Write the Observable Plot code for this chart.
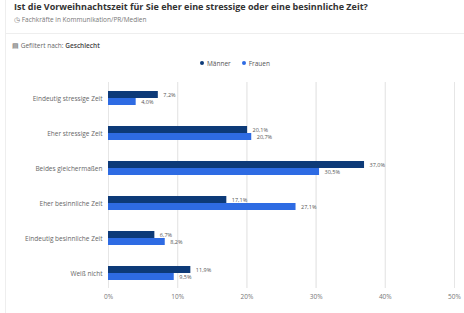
<!DOCTYPE html>
<html><head><meta charset="utf-8">
<script src="https://cdn.jsdelivr.net/npm/d3@7"></script>
<script src="https://cdn.jsdelivr.net/npm/@observablehq/plot@0.6"></script>
<style>
body{margin:0;background:#fff;font-family:"Open Sans",Roboto,sans-serif;width:464px;height:313px;overflow:hidden;position:relative;}
.card{position:absolute;left:5px;top:0;width:459px;height:313px;border-left:1px solid #eee;}
.title{position:absolute;left:14px;top:1px;font-size:9px;line-height:11px;font-weight:700;color:#333;white-space:nowrap;}
.sub{position:absolute;left:14px;top:15px;font-size:6.5px;color:#777;white-space:nowrap;}
.sep{position:absolute;left:5px;right:0;top:33px;border-top:1px solid #eee;}
.filt{position:absolute;left:12px;top:41px;font-size:6.5px;color:#666;white-space:nowrap;}
.filt b{color:#444;font-weight:600}
.legend{position:absolute;top:59px;left:200px;font-size:6.5px;color:#555;white-space:nowrap;}
.legend span{display:inline-block;margin-right:11px}
.legend i{display:inline-block;width:4px;height:4px;border-radius:50%;margin-right:3px;vertical-align:1px}
#chart{position:absolute;left:0;top:75px;}
</style></head>
<body>
<div class="card"></div>
<div class="title">Ist die Vorweihnachtszeit für Sie eher eine stressige oder eine besinnliche Zeit?</div>
<div class="sub">&#9719; Fachkräfte in Kommunikation/PR/Medien</div>
<div class="sep"></div>
<div class="filt">&#9636; Gefiltert nach: <b>Geschlecht</b></div>
<div class="legend" id="legend"></div>
<div id="chart"></div>
<script>
const categories = ["Eindeutig stressige Zeit","Eher stressige Zeit","Beides gleichermaßen","Eher besinnliche Zeit","Eindeutig besinnliche Zeit","Weiß nicht"];
const seriesNames = ["Männer","Frauen"];
const maenner = [7.2,20.1,37.0,17.1,6.7,11.9];
const frauen = [4.0,20.7,30.5,27.1,8.2,9.5];
const xTicks = [0,10,20,30,40,50];
const colors = ["#0d3a78","#2e6be3"];

const fmt = v => v.toFixed(1).replace(".", ",") + "%";
const dataM = categories.map((c,i)=>({cat:c, v:maenner[i]}));
const dataF = categories.map((c,i)=>({cat:c, v:frauen[i]}));

document.getElementById("legend").innerHTML = seriesNames.map((s,i)=>`<span><i style="background:${colors[i]}"></i>${s}</span>`).join("");

const half = 7;
const chart = Plot.plot({
  width:464, height:238,
  marginLeft:108, marginRight:10, marginTop:7, marginBottom:25,
  style:{fontFamily:"'Open Sans',Roboto,sans-serif", fontSize:"6.5px", color:"#666", background:"transparent"},
  x:{domain:[0,50], ticks:xTicks, tickFormat:d=>d+"%", grid:true, label:null, tickSize:0, tickPadding:6},
  y:{domain:categories, paddingInner:0.6, paddingOuter:0.22, label:null, tickSize:0, tickPadding:6},
  marks:[
    Plot.gridX(xTicks,{stroke:"#e6e6e6", strokeOpacity:1}),
    Plot.barX(dataM,{x:"v", y:"cat", fill:colors[0], insetBottom:half}),
    Plot.barX(dataF,{x:"v", y:"cat", fill:colors[1], insetTop:half}),
    Plot.text(dataM,{x:"v", y:"cat", text:d=>fmt(d.v), dx:5, dy:-3.5, textAnchor:"start", fill:"#555", fontSize:5.5}),
    Plot.text(dataF,{x:"v", y:"cat", text:d=>fmt(d.v), dx:5, dy:3.5, textAnchor:"start", fill:"#555", fontSize:5.5}),
    Plot.axisY({tickSize:0, tickPadding:6, fill:"#666", fontSize:6.5}),
    Plot.axisX({ticks:xTicks, tickFormat:d=>d+"%", tickSize:0, tickPadding:6, fill:"#777", fontSize:6.5})
  ]
});
document.getElementById("chart").appendChild(chart);
</script>
</body></html>
